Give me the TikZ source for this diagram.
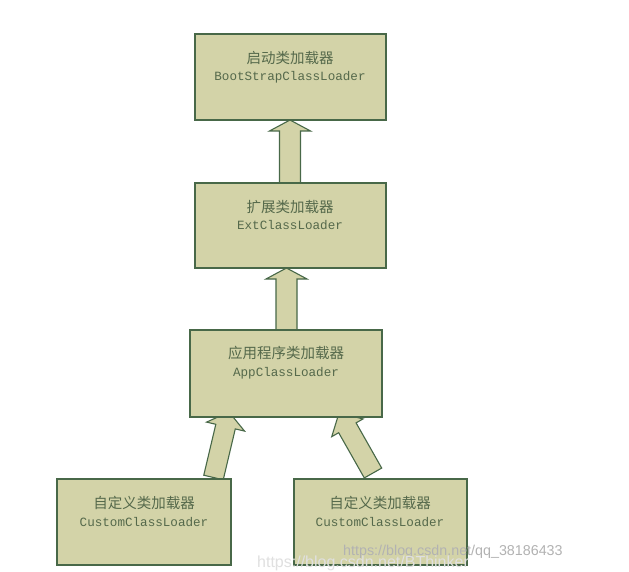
\documentclass[tikz,border=0pt]{standalone}
\usepackage{fontspec}
\setmainfont{Liberation Mono}
\newfontfamily\cjk{Noto Sans CJK SC}
\newfontfamily\wmfont{Liberation Sans}
\usetikzlibrary{calc}
\definecolor{boxfill}{RGB}{211,211,168}
\definecolor{boxline}{RGB}{72,104,72}
\definecolor{txt}{RGB}{85,105,75}
\tikzset{
  loader/.style={draw=boxline, line width=1.3pt, fill=boxfill},
  blk/.style={draw=boxline, line width=1.1pt, fill=boxfill, line join=miter},
  cn/.style={text=txt, font=\cjk\fontsize{14.5}{16}\selectfont, inner sep=0pt},
  en/.style={text=txt, font=\fontsize{12.6}{14}\selectfont, inner sep=0pt},
  wm/.style={font=\wmfont, inner sep=0pt, anchor=west},
}
% #1 start, #2 tip, #3 head length, #4 shaft half width, #5 head half width
\newcommand{\blkarrow}[5]{%
  \coordinate (ba-h) at ($(#2)!#3!(#1)$);
  \draw[blk] ($(#1)!#4!90:(#2)$) -- ($(ba-h)!#4!90:(#2)$) -- ($(ba-h)!#5!90:(#2)$) -- (#2)
    -- ($(ba-h)!#5!-90:(#2)$) -- ($(ba-h)!#4!-90:(#2)$) -- ($(#1)!#4!-90:(#2)$) -- cycle;
}
\begin{document}
\begin{tikzpicture}[x=1pt,y=-1pt]
\useasboundingbox (0,0) rectangle (629,572);
\fill[white] (0,0) rectangle (629,572);
% arrow end points
\coordinate (a1s) at (290,183); \coordinate (a1t) at (290,120);
\coordinate (a2s) at (286.5,330); \coordinate (a2t) at (286.5,268);
\coordinate (a3s) at (213.5,477.5); \coordinate (a3t) at (229,412);
\coordinate (a4s) at (373,473); \coordinate (a4t) at (339,413);
% arrows (drawn under the boxes)
\blkarrow{a1s}{a1t}{11pt}{10.5pt}{20.5pt}
\blkarrow{a2s}{a2t}{11pt}{10.5pt}{20.5pt}
\blkarrow{a3s}{a3t}{15pt}{10pt}{19.5pt}
\blkarrow{a4s}{a4t}{17pt}{10pt}{18pt}
% boxes
\path[loader] (195,34) rectangle (386,120) coordinate (b1);
\path[loader] (195,183) rectangle (386,268) coordinate (b2);
\path[loader] (190,330) rectangle (382,417) coordinate (b3);
\path[loader] (57,479) rectangle (231,565) coordinate (b4);
\path[loader] (294,479) rectangle (467,565) coordinate (b5);
% texts
\node[cn] (t1a) at (290,58) {启动类加载器};
\node[en] (t1b) at (290,77) {BootStrapClassLoader};
\node[cn] (t2a) at (290,207) {扩展类加载器};
\node[en] (t2b) at (290,225) {ExtClassLoader};
\node[cn] (t3a) at (286,353) {应用程序类加载器};
\node[en] (t3b) at (286,373) {AppClassLoader};
\node[cn] (t4a) at (144,503) {自定义类加载器};
\node[en] (t4b) at (144,522) {CustomClassLoader};
\node[cn] (t5a) at (380,503) {自定义类加载器};
\node[en] (t5b) at (380,522) {CustomClassLoader};
% watermarks
\node[wm, text=black!30, font=\wmfont\fontsize{14.3}{16}\selectfont] (w1) at (343,552) {https://blog.csdn.net/qq\_38186433};
\node[wm, text=black!12, font=\wmfont\fontsize{16}{17}\selectfont] (w2) at (257,563) {https://blog.csdn.net/BThinker};
\end{tikzpicture}
\end{document}
